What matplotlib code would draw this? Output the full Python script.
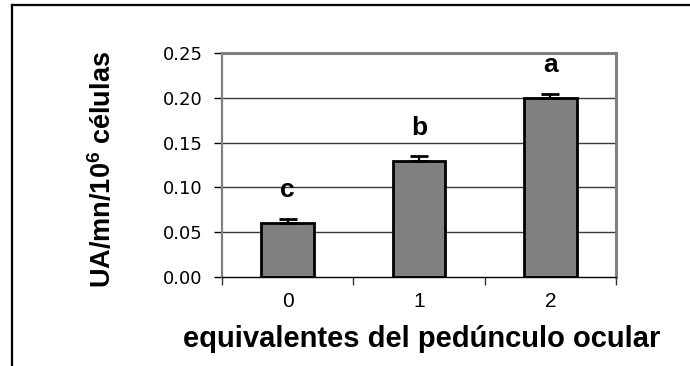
import matplotlib
matplotlib.use("Agg")
import matplotlib.pyplot as plt
from matplotlib.lines import Line2D

# Data
categories = ["0", "1", "2"]
activity = [0.06, 0.13, 0.20]
errors = [0.005, 0.005, 0.004]
groups = ["c", "b", "a"]
yticks = [0.00, 0.05, 0.10, 0.15, 0.20, 0.25]

plt.rcParams["font.family"] = ["Liberation Sans", "DejaVu Sans"]
plt.rcParams["mathtext.fontset"] = "custom"
plt.rcParams["mathtext.rm"] = "Liberation Sans:bold"
plt.rcParams["mathtext.bf"] = "Liberation Sans:bold"
plt.rcParams["mathtext.it"] = "Liberation Sans:bold"

fig = plt.figure(figsize=(6.9, 3.66), dpi=100)
ax = fig.add_axes([222 / 690, 89 / 366, 394 / 690, 224 / 366])

x = list(range(len(categories)))
ax.bar(x, activity, width=0.4, color="#808080", edgecolor="black",
       linewidth=2.0, zorder=3)
ax.errorbar(x, activity, yerr=[[0] * len(errors), errors], fmt="none",
            ecolor="black", elinewidth=1.6, capsize=6.5, capthick=2.0,
            zorder=4)

for xi, v, g in zip(x, activity, groups):
    ax.text(xi, v + 0.029, g, ha="center", va="baseline",
            fontsize=19, fontweight="bold", color="black")

ax.set_xlim(-0.5, 2.5)
ax.set_ylim(0, 0.25)
ax.set_yticks(yticks)
ax.set_yticklabels([f"{t:.2f}" for t in yticks], fontfamily="DejaVu Sans",
                   fontsize=13)
ax.tick_params(axis="y", direction="out", length=6, width=1, color="black",
               pad=8)

ax.set_xticks(x)
ax.set_xticklabels(categories, fontsize=15)
ax.tick_params(axis="x", which="major", length=0, pad=11)
ax.set_xticks([-0.5, 0.5, 1.5, 2.5], minor=True)
ax.tick_params(axis="x", which="minor", direction="out", length=6, width=1,
               color="#333333")

for yv in yticks[1:-1]:
    ax.axhline(yv, color="#3a3a3a", linewidth=1.0, zorder=1)

ax.spines["top"].set_color("#808080")
ax.spines["top"].set_linewidth(2.2)
ax.spines["right"].set_color("#808080")
ax.spines["right"].set_linewidth(2.2)
ax.spines["left"].set_color("#808080")
ax.spines["left"].set_linewidth(1.6)
ax.spines["bottom"].set_color("black")
ax.spines["bottom"].set_linewidth(1.0)
ax.spines["bottom"].set_zorder(5)

fig.text(103 / 690, 1 - 170 / 366, r"UA/mn/10$^{6}$ células", rotation=90,
         ha="center", va="center", fontsize=19.5, fontweight="bold")
fig.text(422 / 690, 19 / 366, "equivalentes del pedúnculo ocular",
         ha="center", va="baseline", fontsize=21, fontweight="bold")

# Outer frame (top and left edges)
fig.add_artist(Line2D([12 / 690, 12 / 690], [0, 1 - 5 / 366],
                      transform=fig.transFigure, color="black", linewidth=1.6,
                      solid_capstyle="projecting"))
fig.add_artist(Line2D([12 / 690, 1], [1 - 5 / 366, 1 - 5 / 366],
                      transform=fig.transFigure, color="black", linewidth=1.6,
                      solid_capstyle="projecting"))

fig.savefig("out.png", dpi=100)
